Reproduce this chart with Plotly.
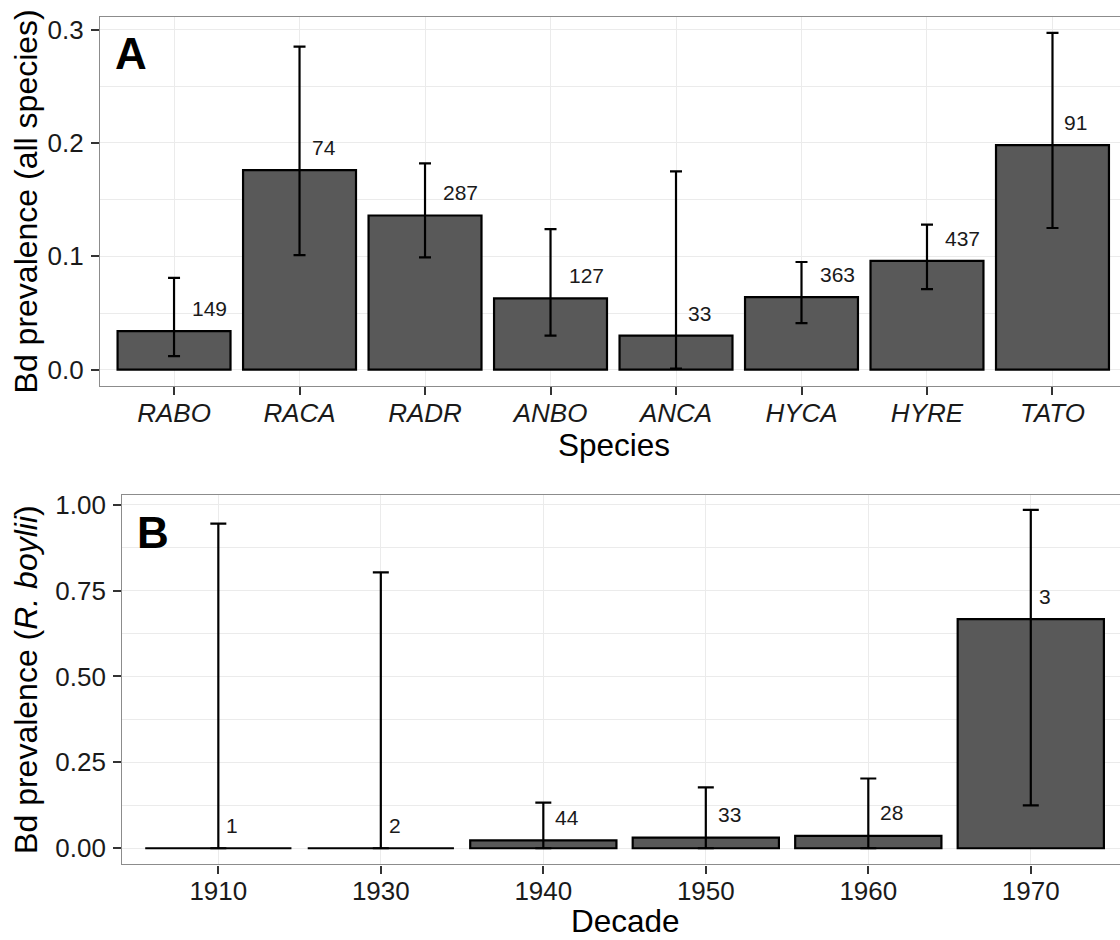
import plotly.graph_objects as go

# ---------------- Data ----------------
species = ["RABO", "RACA", "RADR", "ANBO", "ANCA", "HYCA", "HYRE", "TATO"]
species_prev = [0.034, 0.176, 0.136, 0.063, 0.030, 0.064, 0.096, 0.198]
species_lo = [0.012, 0.101, 0.099, 0.030, 0.001, 0.041, 0.071, 0.125]
species_hi = [0.081, 0.285, 0.182, 0.124, 0.175, 0.095, 0.128, 0.297]
species_n = ["149", "74", "287", "127", "33", "363", "437", "91"]

decades = ["1910", "1930", "1940", "1950", "1960", "1970"]
decade_prev = [0.0, 0.0, 0.023, 0.031, 0.036, 0.667]
decade_lo = [0.0, 0.0, 0.0, 0.0, 0.0, 0.125]
decade_hi = [0.945, 0.803, 0.133, 0.177, 0.203, 0.985]
decade_n = ["1", "2", "44", "33", "28", "3"]

FONT = "Liberation Sans"
BAR_FILL = "#595959"
GRID = "#ebebeb"
BORDER = "#8c8c8c"
TICK_SIZE = 26

fig = go.Figure()

xa = list(range(len(species)))
xb = list(range(len(decades)))

fig.add_trace(go.Bar(
    x=xa, y=species_prev, width=0.9,
    marker=dict(color=BAR_FILL, line=dict(color="black", width=2.2)),
    error_y=dict(type="data", symmetric=False,
                 array=[h - v for h, v in zip(species_hi, species_prev)],
                 arrayminus=[v - l for l, v in zip(species_lo, species_prev)],
                 color="black", thickness=2.2, width=6),
    xaxis="x", yaxis="y", showlegend=False))

fig.add_trace(go.Bar(
    x=xb, y=decade_prev, width=0.9,
    marker=dict(color=BAR_FILL, line=dict(color="black", width=2.2)),
    error_y=dict(type="data", symmetric=False,
                 array=[h - v for h, v in zip(decade_hi, decade_prev)],
                 arrayminus=[v - l for l, v in zip(decade_lo, decade_prev)],
                 color="black", thickness=2.2, width=8),
    xaxis="x2", yaxis="y2", showlegend=False))

label_shift = {1: 6, 2: 10, 3: 16}
annotations = []
for i, (v, n) in enumerate(zip(species_prev, species_n)):
    annotations.append(dict(x=i, y=v + 0.02, xref="x", yref="y", text=n,
                            showarrow=False, xanchor="left", yanchor="middle",
                            xshift=label_shift[len(n)],
                            font=dict(family=FONT, size=21, color="#1a1a1a")))
for i, (v, n) in enumerate(zip(decade_prev, decade_n)):
    annotations.append(dict(x=i, y=v + 0.067, xref="x2", yref="y2", text=n,
                            showarrow=False, xanchor="left", yanchor="middle",
                            xshift=label_shift[len(n)],
                            font=dict(family=FONT, size=21, color="#1a1a1a")))

# panel letters
annotations.append(dict(x=131 / 1120, y=1 - 49 / 940, xref="paper", yref="paper",
                        text="<b>A</b>", showarrow=False, xanchor="center", yanchor="middle",
                        font=dict(family=FONT, size=44, color="black")))
annotations.append(dict(x=153 / 1120, y=1 - 530 / 940, xref="paper", yref="paper",
                        text="<b>B</b>", showarrow=False, xanchor="center", yanchor="middle",
                        font=dict(family=FONT, size=44, color="black")))
# axis titles
annotations.append(dict(x=26 / 1120, y=1 - 197.5 / 940, xref="paper", yref="paper",
                        text="Bd prevalence (all species)", textangle=-90, showarrow=False,
                        xanchor="center", yanchor="middle",
                        font=dict(family=FONT, size=32, color="black")))
annotations.append(dict(x=26 / 1120, y=1 - 678.5 / 940, xref="paper", yref="paper",
                        text="Bd prevalence (<i>R. boylii</i>)", textangle=-90, showarrow=False,
                        xanchor="center", yanchor="middle",
                        font=dict(family=FONT, size=32, color="black")))
annotations.append(dict(x=614 / 1120, y=1 - 442 / 940, xref="paper", yref="paper",
                        text="Species", showarrow=False, xanchor="center", yanchor="middle",
                        font=dict(family=FONT, size=31.5, color="black")))
annotations.append(dict(x=625 / 1120, y=1 - 921 / 940, xref="paper", yref="paper",
                        text="Decade", showarrow=False, xanchor="center", yanchor="middle",
                        font=dict(family=FONT, size=31.5, color="black")))

common_x = dict(showgrid=True, gridcolor=GRID, gridwidth=1.3, zeroline=False,
                showline=True, linecolor=BORDER, linewidth=1.3, mirror=True,
                ticks="outside", ticklen=8, tickwidth=1.6, tickcolor="#333333",
                ticklabelstandoff=-5, fixedrange=True)
common_y = dict(showgrid=True, gridcolor=GRID, gridwidth=1.3, zeroline=False,
                showline=True, linecolor=BORDER, linewidth=1.3, mirror=False,
                ticks="outside", ticklen=8, tickwidth=1.6, tickcolor="#333333",
                tickfont=dict(family=FONT, size=TICK_SIZE, color="#1a1a1a"),
                ticklabelstandoff=2)

fig.update_layout(
    width=1120, height=940,
    margin=dict(l=0, r=0, t=0, b=0),
    paper_bgcolor="white", plot_bgcolor="white",
    font=dict(family=FONT, color="black"),
    annotations=annotations,
    xaxis=dict(common_x, domain=[100 / 1120, 1], anchor="y",
               range=[-0.590, 7.538], tickvals=xa, ticktext=species,
               tickfont=dict(family=FONT, size=TICK_SIZE, color="#1a1a1a", style="italic")),
    yaxis=dict(common_y, domain=[1 - 383.3 / 940, 1 - 11.7 / 940], anchor="x",
               range=[-0.0146, 0.3114], tickvals=[0, 0.1, 0.2, 0.3],
               ticktext=["0.0", "0.1", "0.2", "0.3"],
               minor=dict(dtick=0.05, tick0=0, showgrid=True, gridcolor=GRID, gridwidth=0.9,
                          ticks="")),
    xaxis2=dict(common_x, domain=[122.3 / 1120, 1], anchor="y2",
                range=[-0.591, 5.549], tickvals=xb, ticktext=decades,
                tickfont=dict(family=FONT, size=TICK_SIZE, color="#1a1a1a")),
    yaxis2=dict(common_y, domain=[1 - 864 / 940, 1 - 492.7 / 940], anchor="x2",
                range=[-0.047, 1.028], tickvals=[0, 0.25, 0.5, 0.75, 1.0],
                ticktext=["0.00", "0.25", "0.50", "0.75", "1.00"],
                minor=dict(dtick=0.125, tick0=0, showgrid=True, gridcolor=GRID, gridwidth=0.9,
                           ticks="")),
)

fig.write_html("out.html")
